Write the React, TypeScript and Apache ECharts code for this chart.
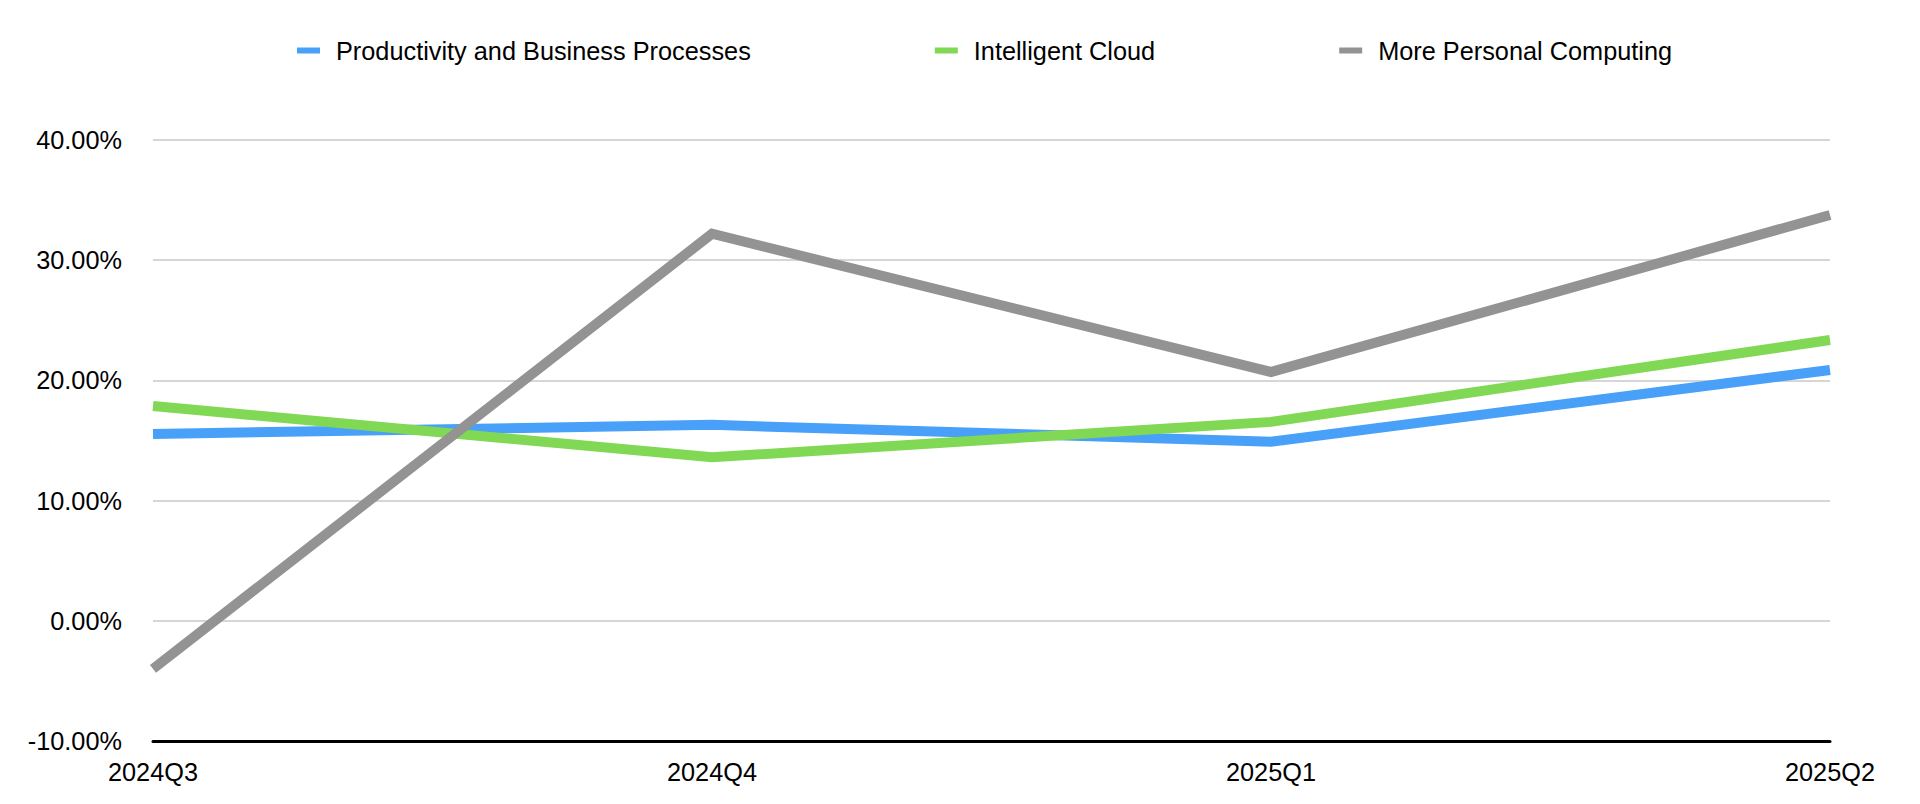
import React, { useEffect, useRef } from "react";
import * as echarts from "echarts";

const categories = ["2024Q3", "2024Q4", "2025Q1", "2025Q2"];
const productivity = [15.54, 16.3, 14.9, 20.87];
const intelligentCloud = [17.87, 13.6, 16.55, 23.36];
const personalComputing = [-4.0, 32.2, 20.7, 33.76];
const seriesNames = [
  "Productivity and Business Processes",
  "Intelligent Cloud",
  "More Personal Computing",
];
const colors = ["#48a0f8", "#80d854", "#939393"];

const FONT = "'Liberation Sans', Helvetica, Arial, sans-serif";

export default function App() {
  const ref = useRef<HTMLDivElement>(null);
  useEffect(() => {
    if (!ref.current) return;
    const chart = echarts.init(ref.current, null, { renderer: "svg" });
    const data = [productivity, intelligentCloud, personalComputing];
    chart.setOption({
      animation: false,
      backgroundColor: "#ffffff",
      textStyle: { fontFamily: FONT },
      legend: {
        top: 33,
        left: 292,
        icon: "rect",
        itemWidth: 23,
        itemHeight: 6,
        itemGap: 184,
        textStyle: {
          fontFamily: FONT,
          fontSize: 25.3,
          color: "#000000",
          padding: [0, 0, 0, 11],
        },
        data: seriesNames,
      },
      grid: { left: 153, right: 90, top: 140, bottom: 63 },
      xAxis: {
        type: "category",
        data: categories,
        boundaryGap: false,
        axisTick: { show: false },
        axisLine: {
          show: true,
          onZero: false,
          lineStyle: { color: "#000000", width: 3 },
        },
        axisLabel: {
          fontFamily: FONT,
          fontSize: 25.3,
          color: "#000000",
          margin: 18,
          interval: 0,
        },
        splitLine: { show: false },
      },
      yAxis: {
        type: "value",
        min: -10,
        max: 40,
        interval: 10,
        axisLine: { show: false },
        axisTick: { show: false },
        axisLabel: {
          fontFamily: FONT,
          fontSize: 25.3,
          color: "#000000",
          margin: 31,
          formatter: (v: number) => v.toFixed(2) + "%",
        },
        splitLine: { lineStyle: { color: "#c8c8c8", width: 1.5 } },
      },
      series: seriesNames.map((name, i) => ({
        name,
        type: "line",
        data: data[i],
        symbol: "none",
        smooth: false,
        color: colors[i],
        lineStyle: { width: 10, color: colors[i], cap: "butt", join: "miter" },
        itemStyle: { color: colors[i] },
        z: 2 + i,
      })),
    });
    return () => chart.dispose();
  }, []);
  return (
    <div
      ref={ref}
      style={{ position: "fixed", left: 0, top: 0, width: 1920, height: 804 }}
    />
  );
}
